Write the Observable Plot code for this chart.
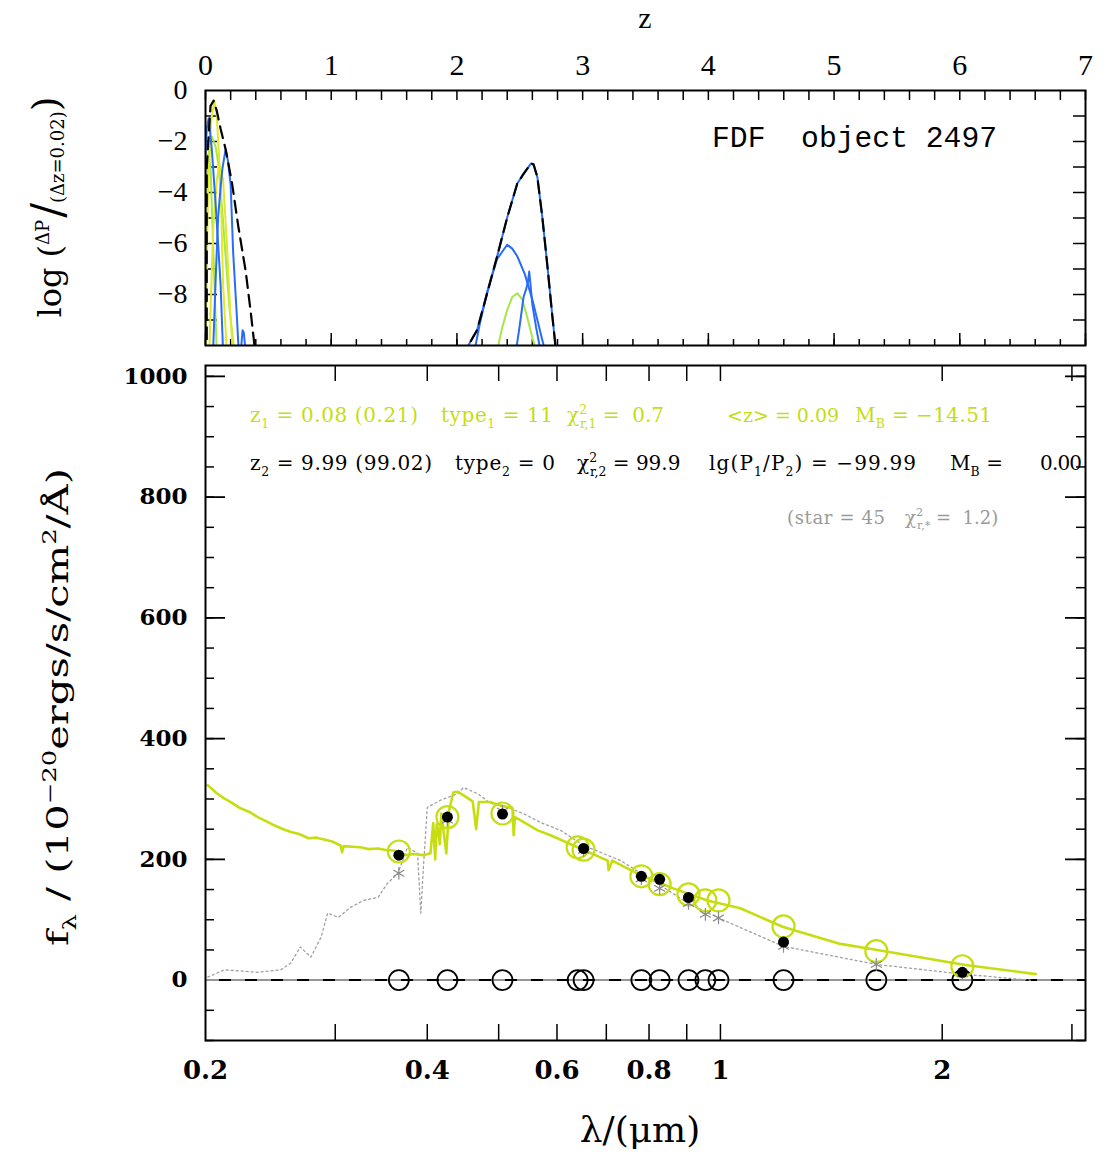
<!DOCTYPE html>
<html><head><meta charset="utf-8">
<script src="https://cdn.jsdelivr.net/npm/d3@7"></script>
<script src="https://cdn.jsdelivr.net/npm/@observablehq/plot@0.6"></script>
<style>
body{margin:0;background:#fff;}
#wrap{position:relative;width:1108px;height:1154px;overflow:hidden;background:#fff;}
#top,#bot{position:absolute;left:0;}
#top{top:0}
#bot{top:355px}
</style></head><body><div id="wrap"><div id="top"></div><div id="bot"></div></div>
<script>
// ---------- tick labels ----------
const zTicks = [0,1,2,3,4,5,6,7];
const logPTicks = [0,-2,-4,-6,-8];
const lamTicks = [0.2,0.4,0.6,0.8,1,2];
const lamMinorTicks = [0.3,0.4,0.5,0.6,0.7,0.8,0.9,1,2,3];
const fluxTicks = [0,200,400,600,800,1000];

// ---------- P(z) curves (top panel) ----------
const envLowZ = [0.01,0.01,0.04,0.065,0.09,0.12,0.16,0.21,0.26,0.32,0.36,0.385,0.40];
const envLowP = [-10.5,-3,-0.6,-0.4,-0.8,-1.5,-2.3,-3.6,-5.3,-7.1,-8.7,-9.8,-10.5];
const envHumpZ = [2.05,2.09,2.16,2.24,2.32,2.40,2.48,2.53,2.59,2.61,2.64,2.68,2.72,2.76,2.79];
const envHumpP = [-10.5,-10,-9.4,-7.96,-6.5,-4.98,-3.65,-3.27,-2.86,-2.9,-3.4,-5.0,-6.9,-8.9,-10.3];
const blueBZ = [2.14,2.18,2.24,2.32,2.40,2.44,2.48,2.54,2.60,2.66,2.70];
const blueBP = [-10.2,-9.2,-7.9,-6.6,-6.05,-6.2,-6.5,-7.2,-8.2,-9.4,-10.2];
const blueCZ = [2.47,2.50,2.53,2.55,2.565,2.575,2.585,2.60,2.63,2.665];
const blueCP = [-10.2,-9.2,-8.1,-7.8,-7.5,-7.1,-7.6,-8.4,-9.3,-10.2];
const greenHumpZ = [2.32,2.36,2.40,2.44,2.48,2.52,2.56,2.60,2.63];
const greenHumpP = [-10.2,-9.3,-8.6,-8.1,-7.95,-8.2,-8.9,-9.7,-10.2];
const blueDZ = [0.0,0.01,0.025,0.05,0.08,0.10,0.12,0.135,0.14];
const blueDP = [-2.5,-1.5,-1.1,-2.3,-4.4,-6.0,-7.6,-9.6,-10.3];
const blueEZ = [0.06,0.08,0.10,0.12,0.135,0.16,0.18,0.20,0.22,0.25,0.265];
const blueEP = [-10.3,-7.5,-5.0,-3.8,-3.05,-2.3,-2.8,-3.7,-6.35,-8.9,-10.3];
const blueFZ = [0.28,0.295,0.305,0.32];
const blueFP = [-10.3,-9.4,-9.5,-10.3];
const yelAZ = [0.0,0.02,0.045,0.07,0.09,0.12,0.14,0.17];
const yelAP = [-10.3,-4,-1.2,-0.4,-1.0,-3.7,-7.6,-10.3];
const yelBZ = [0.03,0.06,0.09,0.11,0.14,0.17,0.20,0.22];
const yelBP = [-10.3,-5.5,-3.5,-2.9,-3.5,-6,-9,-10.3];
const greenAZ = [0.0,0.015,0.03,0.05,0.08,0.1,0.13,0.16,0.19,0.23];
const greenAP = [-6,-3.5,-2.3,-1.8,-2.2,-2.8,-4.5,-6.5,-8.5,-10.3];
const greenBZ = [0.0,0.01,0.02,0.04,0.06,0.09];
const greenBP = [-10.3,-4,-2.5,-3,-6,-10.3];

// ---------- SED (bottom panel) ----------
const filterLam = [0.366,0.426,0.506,0.640,0.652,0.781,0.827,0.905,0.954,0.994,1.218,1.628,2.13];
const modelFlux = [213,270,276,220,216,172,159,142,132,132,89,48,23];
const obsLam = [0.366,0.426,0.506,0.652,0.781,0.827,0.905,1.218,2.13];
const obsFlux = [207,270,275,218,172,167,137,63,13];
const starLam = [0.366,0.426,0.506,0.652,0.781,0.827,0.905,0.954,0.994,1.218,1.628,2.13];
const starFlux = [177,265,280,215,168,152,127,109,103,56,26,11];
const sedLam = [0.2014,0.207,0.212,0.217,0.2228,0.229,0.2355,0.242,0.2483,0.255,0.262,0.268,0.276,0.283,0.2917,0.298,0.305,0.3065,0.308,0.316,0.3245,0.333,0.343,0.350,0.3575,0.365,0.373,0.384,0.395,0.404,0.4075,0.410,0.412,0.414,0.416,0.418,0.4245,0.428,0.434,0.44,0.448,0.461,0.466,0.470,0.487,0.503,0.522,0.524,0.526,0.535,0.565,0.588,0.632,0.703,0.705,0.713,0.779,0.863,0.960,1.064,1.217,1.455,1.633,2.15,2.68];
const sedFlux = [323,310,301,294,285,279,270,263,256,250,245,242,235,236,232,229,223,212,222,221,220,217,218,216,215,213,207,209,207,210,260,200,258,250,225,276,210,280,311,312,306,296,250,295,295,289,285,240,270,265,248,240,223,198,182,198,174,152,132,119,88,60,50,25,10];
const starSpecLam = [0.2014,0.212,0.2355,0.253,0.261,0.269,0.278,0.287,0.293,0.303,0.315,0.328,0.343,0.353,0.365,0.376,0.388,0.392,0.395,0.400,0.417,0.440,0.448,0.468,0.487,0.514,0.540,0.570,0.607,0.652,0.732,0.829,0.905,0.994,1.217,1.628,2.13,2.634];
const starSpecFlux = [5,17,13,17,28,55,38,71,111,104,121,132,137,160,177,220,210,111,182,286,298,309,319,309,293,286,276,261,248,223,198,157,127,103,56,26,10,0];

// ---------- colours ----------
const YEL = "#c6dd12", BLUE = "#2a6cf5", GREEN = "#a6e64a", LYEL = "#dfe82a";

const rows = (xs, ys, id) => xs.map((x, i) => ({x, y: ys[i], id}));

const topCurves = [
  ...rows(greenBZ, greenBP, "gB"), ...rows(greenAZ, greenAP, "gA"),
  ...rows(yelBZ, yelBP, "yB"), ...rows(yelAZ, yelAP, "yA"),
  ...rows(greenHumpZ, greenHumpP, "gH")
];
const colorOf = {gB: GREEN, gA: GREEN, yB: LYEL, yA: LYEL, gH: GREEN};
const blueCurves = [
  ...rows(blueDZ, blueDP, "bD"), ...rows(blueEZ, blueEP, "bE"), ...rows(blueFZ, blueFP, "bF"),
  ...rows(envHumpZ, envHumpP, "bA"), ...rows(blueBZ, blueBP, "bB"), ...rows(blueCZ, blueCP, "bC")
];
const envelope = [...rows(envLowZ, envLowP, "e1"), ...rows(envHumpZ, envHumpP, "e2")];

const zMinor = d3.range(0, 7.001, 0.2).map(v => +v.toFixed(2));
const TFW = 880, TFH = 255;

const topPlot = Plot.plot({
  width: 1108, height: 355,
  marginTop: 90, marginBottom: 10, marginLeft: 205, marginRight: 23,
  x: {domain: [0, 7]},
  y: {domain: [-10, 0]},
  style: {fontFamily: "Liberation Serif", fontSize: "28px", color: "black", background: "white"},
  marks: [
    Plot.axisX({anchor: "top", ticks: zTicks, tickSize: 0, tickPadding: 16, label: null, fontSize: 30, tickFormat: d => String(d)}),
    Plot.axisY({anchor: "left", ticks: logPTicks, tickSize: 0, tickPadding: 18, label: null, fontSize: 28, tickFormat: d => d === 0 ? "0" : "\u2212" + Math.abs(d)}),
    Plot.tickX(zMinor, {x: d => d, insetBottom: TFH - 10, stroke: "black", strokeWidth: 1.5}),
    Plot.tickX(zMinor, {x: d => d, insetTop: TFH - 6, stroke: "black", strokeWidth: 1.5}),
    Plot.tickX(zTicks, {x: d => d, insetTop: TFH - 12, stroke: "black", strokeWidth: 1.5}),
    Plot.tickY(d3.range(-9, 0), {y: d => d, insetRight: TFW - 12, stroke: "black", strokeWidth: 1.5}),
    Plot.tickY(d3.range(-9, 0), {y: d => d, insetLeft: TFW - 12, stroke: "black", strokeWidth: 1.5}),
    Plot.line(topCurves, {x: "x", y: "y", z: "id", stroke: d => colorOf[d.id], strokeWidth: 2, clip: true}),
    Plot.line(blueCurves, {x: "x", y: "y", z: "id", stroke: BLUE, strokeWidth: 2, clip: true}),
    Plot.line(envelope, {x: "x", y: "y", z: "id", stroke: "black", strokeWidth: 2.2, strokeDasharray: "12,7", clip: true}),
    Plot.frame({stroke: "black", strokeWidth: 2})
  ]
});
document.getElementById("top").appendChild(topPlot);

// ---------- bottom panel ----------
const BFW = 880, BFH = 675;
const fluxMinor = d3.range(-100, 1001, 50);
const fluxMajor = d3.range(0, 1001, 200);

const botPlot = Plot.plot({
  width: 1108, height: 799,
  marginTop: 10, marginBottom: 114, marginLeft: 205, marginRight: 23,
  x: {type: "log", domain: [0.2, 3.13]},
  y: {domain: [-100, 1018]},
  style: {fontFamily: "DejaVu Serif", fontSize: "22px", color: "black", background: "white"},
  marks: [
    Plot.axisX({anchor: "bottom", ticks: lamTicks, tickSize: 0, tickPadding: 20, label: null, fontSize: 26, fontWeight: "bold", tickFormat: d => String(d)}),
    Plot.axisY({anchor: "left", ticks: fluxTicks, tickSize: 0, tickPadding: 18, label: null, fontSize: 23, fontWeight: "bold", tickFormat: d => String(d)}),
    Plot.tickX(lamMinorTicks, {x: d => d, insetTop: BFH - 16, stroke: "black", strokeWidth: 1.5}),
    Plot.tickX(lamMinorTicks, {x: d => d, insetBottom: BFH - 16, stroke: "black", strokeWidth: 1.5}),
    Plot.tickY(fluxMinor, {y: d => d, insetRight: BFW - 9, stroke: "black", strokeWidth: 1.5}),
    Plot.tickY(fluxMinor, {y: d => d, insetLeft: BFW - 9, stroke: "black", strokeWidth: 1.5}),
    Plot.tickY(fluxMajor, {y: d => d, insetRight: BFW - 20, stroke: "black", strokeWidth: 1.8}),
    Plot.tickY(fluxMajor, {y: d => d, insetLeft: BFW - 20, stroke: "black", strokeWidth: 1.8}),
    Plot.ruleY([0], {stroke: "black", strokeWidth: 2}),
    Plot.ruleY([0], {stroke: "#c8c8c8", strokeWidth: 1.5, strokeDasharray: "14,12"}),
    Plot.line(starSpecLam.map((x, i) => ({x, y: starSpecFlux[i]})), {x: "x", y: "y", stroke: "#a0a0a0", strokeWidth: 1.3, strokeDasharray: "2,3"}),
    Plot.line(sedLam.map((x, i) => ({x, y: sedFlux[i]})), {x: "x", y: "y", stroke: YEL, strokeWidth: 2.6}),
    Plot.dot(filterLam, {x: d => d, y: () => 0, r: 10, stroke: "black", strokeWidth: 1.8, fill: "none"}),
    Plot.dot(filterLam.map((x, i) => ({x, y: modelFlux[i]})), {x: "x", y: "y", r: 11, stroke: YEL, strokeWidth: 2.2, fill: "none"}),
    Plot.dot(starLam.map((x, i) => ({x, y: starFlux[i]})), {x: "x", y: "y", r: 6, symbol: "asterisk", stroke: "#8a8a8a", strokeWidth: 1.2}),
    Plot.dot(obsLam.map((x, i) => ({x, y: obsFlux[i]})), {x: "x", y: "y", r: 5.5, fill: "black", stroke: "none"}),
    Plot.frame({stroke: "black", strokeWidth: 2})
  ]
});
document.getElementById("bot").appendChild(botPlot);

// ---------- rich text helper ----------
function rich(svg, {x, y, size, fill = "black", family = "DejaVu Serif", weight = "normal", anchor = "start", rotate = 0, textLength = null, adjust = "spacing"}, parts) {
  const t = d3.select(svg).append("text")
    .attr("transform", `translate(${x},${y}) rotate(${rotate})`)
    .attr("font-size", size).attr("font-family", family).attr("font-weight", weight)
    .attr("fill", fill).attr("text-anchor", anchor).style("white-space", "pre");
  if (textLength) t.attr("textLength", textLength).attr("lengthAdjust", adjust);
  let cur = 0;
  for (const p of parts) {
    const [s, mode = "n", o = {}] = p;
    const fs = o.size || (mode === "n" ? size : size * 0.62);
    const off = o.off !== undefined ? o.off : (mode === "sub" ? size * 0.28 : mode === "sup" ? -size * 0.42 : 0);
    const ts = t.append("tspan").text(s).attr("dy", off - cur).attr("font-size", fs);
    if (o.dx) ts.attr("dx", o.dx);
    cur = off;
  }
  return t;
}

// top panel texts
rich(topPlot, {x: 645, y: 28, size: 30, family: "Liberation Serif", anchor: "middle"}, [["z"]]);
rich(topPlot, {x: 712, y: 147, size: 30, family: "Liberation Mono", textLength: 285, adjust: "spacingAndGlyphs"}, [["FDF  object 2497"]]);
rich(topPlot, {x: 61, y: 207, size: 32, family: "DejaVu Serif", anchor: "middle", rotate: -90}, [
  ["log ("], ["\u0394P", "n", {size: 18, off: -12}], ["/", "n", {size: 44, off: 2, dx: 2}],
  ["(\u0394z=0.02)", "n", {size: 18, off: 3}], [")", "n", {size: 38, off: -2}]
]);

// bottom panel texts (bottom svg coords: abs y - 355)
const B = botPlot;
const F = "DejaVu Serif";
const AS = 20;
// yellow line
rich(B, {x: 250, y: 67, size: AS, fill: YEL, family: F, textLength: 168}, [["z"], ["1", "sub"], [" = 0.08 (0.21)"]]);
rich(B, {x: 441, y: 67, size: AS, fill: YEL, family: F, textLength: 112}, [["type"], ["1", "sub"], [" = 11"]]);
rich(B, {x: 567, y: 67, size: AS, fill: YEL, family: F}, [["\u03c7"], ["2", "sup"], ["r,1", "sub", {dx: -7}], [" =  0.7"]]);
rich(B, {x: 727, y: 67, size: 19, fill: YEL, family: F}, [["<z> = 0.09"]]);
rich(B, {x: 855, y: 67, size: AS, fill: YEL, family: F, textLength: 137}, [["M"], ["B", "sub"], [" = \u221214.51"]]);
// black line
rich(B, {x: 250, y: 115, size: AS, family: F, textLength: 182}, [["z"], ["2", "sub"], [" = 9.99 (99.02)"]]);
rich(B, {x: 455, y: 115, size: AS, family: F, textLength: 100}, [["type"], ["2", "sub"], [" = 0"]]);
rich(B, {x: 577, y: 115, size: AS, family: F}, [["\u03c7"], ["2", "sup"], ["r,2", "sub", {dx: -7}], [" = 99.9"]]);
rich(B, {x: 709, y: 115, size: AS, family: F, textLength: 207}, [["lg(P"], ["1", "sub"], ["/P", "n"], ["2", "sub"], [") = \u221299.99"]]);
rich(B, {x: 950, y: 115, size: AS, family: F, textLength: 53}, [["M"], ["B", "sub"], [" ="]]);
rich(B, {x: 1040, y: 115, size: AS, family: F, textLength: 42}, [["0.00"]]);
// grey line
rich(B, {x: 787, y: 169, size: 18, fill: "#9a9a9a", family: F, textLength: 98}, [["(star = 45"]]);
rich(B, {x: 905, y: 169, size: 18, fill: "#9a9a9a", family: F}, [["\u03c7"], ["2", "sup"], ["r,*", "sub", {dx: -6}], [" =  1.2)"]]);
// axis labels
rich(B, {x: 640, y: 787, size: 36, family: "DejaVu Serif", anchor: "middle"}, [["\u03bb/(\u03bcm)"]]);
rich(B, {x: 68, y: 352, size: 29, family: "DejaVu Serif", weight: "normal", anchor: "middle", rotate: -90, textLength: 478, adjust: "spacingAndGlyphs"}, [
  ["f"], ["\u03bb", "sub"], [" / (10"], ["\u221220", "sup"], ["ergs/s/cm"], ["2", "sup"], ["/\u00c5)"]
]);
</script></body></html>
